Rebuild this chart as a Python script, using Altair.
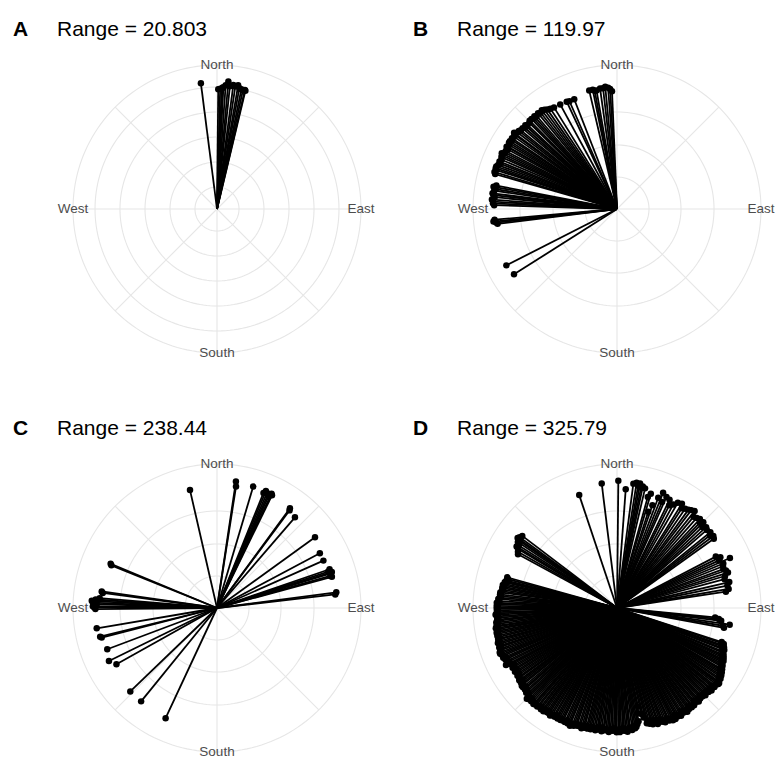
import altair as alt
import pandas as pd

# ---------------- data (compass angle in degrees, relative ray length) ----------------
A_ANGLE = [352.7, 0.6, 1.5, 2.2, 2.7, 3.0, 4.0, 5.1, 6.0, 7.5, 8.5, 9.7, 10.5, 11.5, 12.3, 13.2, 13.5]
A_RADIUS = [0.99, 0.935, 0.94, 0.94, 0.95, 0.95, 0.97, 1.0, 0.965, 0.977, 0.97, 0.98, 0.96, 0.955, 0.95, 0.955, 0.95]

B_ANGLE = [237.6, 243.0,
           262.9, 263.6, 264.2, 265.0,
           271.8, 272.6, 273.4, 274.3, 275.5, 276.4, 277.2, 278.5, 279.3, 280.2, 281.0,
           286.0, 286.8, 287.9, 288.6, 289.4, 290.3, 291.2, 292.0, 293.1, 294.2,
           295.0, 295.8, 296.7, 297.5, 298.6, 299.4, 299.8, 300.7, 301.5, 302.3,
           303.2, 304.0, 305.1, 306.0, 306.5, 307.6, 308.5, 309.3, 310.5, 311.4,
           312.4, 313.2, 314.5, 315.3, 316.5, 317.4, 318.3, 319.2, 320.5, 321.6,
           322.7, 323.8, 325.0, 326.4, 328.2, 331.5, 334.9, 336.2, 338.7,
           346.8, 348.5, 349.3, 350.2, 352.0, 353.4, 354.5, 355.8, 356.7, 357.57]
B_RADIUS = [0.953, 0.97,
            0.94, 0.95, 0.97, 0.96,
            0.96, 0.97, 0.97, 0.98, 0.96, 0.97, 0.98, 0.97, 0.96, 0.98, 0.96,
            0.99, 1.0, 0.99, 1.0, 1.0, 0.99, 0.98, 0.99, 0.98, 0.99,
            0.99, 1.0, 0.98, 0.98, 0.97, 0.99, 0.98, 0.98, 0.99, 0.99,
            0.98, 0.99, 0.98, 0.99, 1.0, 0.98, 0.98, 0.97, 0.97, 0.96,
            0.97, 0.96, 0.96, 0.97, 0.97, 0.96, 0.97, 0.96, 0.97, 0.96,
            0.97, 0.96, 0.95, 0.94, 0.934, 0.93, 0.926, 0.92, 0.92,
            0.95, 0.95, 0.94, 0.94, 0.95, 0.95, 0.96, 0.95, 0.94, 0.92]

C_ANGLE = [205.0, 219.1, 226.1, 240.8, 243.9, 249.4, 255.6, 256.2, 260.4,
           269.5, 270.3, 270.8, 271.8, 272.5, 273.3, 274.0, 274.8, 277.5, 278.2,
           292.0, 292.6, 347.1,
           8.5, 8.9, 16.6, 22.0, 22.7, 23.5, 24.2, 24.8, 25.5, 26.0,
           36.2, 36.6, 40.7, 54.2, 62.0, 66.0, 71.0, 71.9, 72.6, 73.1, 74.2, 74.8,
           82.5, 83.44]
C_RADIUS = [0.95, 0.94, 0.94, 0.90, 0.94, 0.916, 0.93, 0.94, 0.953,
            0.95, 0.96, 0.97, 0.94, 0.97, 0.98, 0.95, 0.92, 0.90, 0.91,
            0.89, 0.90, 0.945,
            1.0, 0.96, 0.99, 0.97, 0.99, 0.98, 0.97, 0.96, 0.99, 0.98,
            0.965, 0.95, 0.934, 0.944, 0.91, 0.91, 0.93, 0.915, 0.94, 0.93, 0.92, 0.93,
            0.94, 0.93]

D_ANGLE = [341.5, 353.0, 0.6, 4.2, 7.5, 8.9, 9.8, 10.5, 11.3, 12.0, 13.2,
           15.5, 16.5, 18.0, 19.0, 20.5, 21.8, 23.0, 24.0, 25.9, 27.0,
           28.5, 30.0, 31.9, 33.0, 34.5, 36.0, 37.2, 38.7, 40.0, 41.5,
           43.0, 44.2, 45.2, 46.5, 47.8, 49.0, 50.9, 52.0, 53.2, 54.4,
           62.5, 63.8, 65.0, 66.1, 67.3, 68.5, 69.9, 71.0, 72.3, 73.5,
           75.0, 77.0, 78.5, 80.3, 81.5, 95.5, 96.2, 97.0, 98.4, 99.5, 100.5,
           108.0, 108.6, 109.5, 110.1, 110.9, 111.4, 112.3, 112.9, 113.8, 114.4,
           115.1, 115.9, 116.5, 117.2, 118.0, 118.7, 119.3, 120.2, 120.8, 121.5,
           122.2, 122.9, 123.6, 124.4, 125.0, 125.8, 126.3, 126.9, 127.6, 128.4,
           129.0, 129.7, 130.5, 131.1, 131.9, 132.5, 133.2, 134.0, 134.6, 135.3,
           136.1, 136.7, 137.4, 138.2, 138.8, 139.5, 140.3, 140.9, 141.6, 142.4,
           143.0, 143.8, 144.5, 145.1, 145.9, 146.6, 147.2, 148.0, 148.7, 149.3,
           150.1, 150.8, 151.4, 152.2, 152.9, 153.5, 154.2, 155.0, 155.6, 156.3,
           157.1, 157.9, 158.5, 159.2, 160.0, 160.6, 161.4, 162.1, 162.8, 163.4,
           164.2, 164.9, 165.5, 166.3, 167.0, 167.9, 168.5, 169.2, 170.0, 170.7,
           171.4, 172.1, 172.9, 173.8, 174.4, 175.1, 175.9, 176.6, 177.2, 178.0,
           178.7, 179.4, 180.2, 180.9, 181.5, 182.3, 183.0, 183.8, 184.4, 185.1,
           185.9, 186.4, 187.2, 188.0, 188.7, 189.3, 190.1, 190.8, 191.6, 192.3,
           193.0, 193.7, 194.3, 195.2, 195.8, 196.5, 197.3, 198.0, 198.9, 199.5,
           200.2, 200.9, 201.8, 202.4, 203.1, 203.9, 204.6, 205.5, 206.1, 206.8,
           207.6, 208.3, 209.0, 209.8, 210.4, 211.2, 211.9, 212.7, 213.3, 214.0,
           214.8, 215.5, 216.1, 216.9, 217.6, 218.4, 219.0, 219.8, 220.5, 221.0,
           221.8, 222.6, 223.3, 224.0, 224.8, 225.5, 226.2, 227.0, 227.7, 228.5,
           229.1, 229.9, 230.8, 231.4, 232.2, 232.9, 233.5, 234.4, 235.0, 235.8,
           236.5, 237.3, 238.0, 238.8, 239.4, 240.2, 240.9, 241.7, 242.3, 242.8,
           243.6, 244.3, 245.1, 245.8, 246.4, 247.2, 247.9, 248.6, 249.2, 250.0,
           250.7, 251.5, 252.1, 252.9, 253.6, 254.3, 255.0, 255.4, 256.2, 256.9,
           257.7, 258.4, 259.1, 259.9, 260.5, 261.2, 261.6, 262.4, 263.1, 263.9,
           264.5, 265.3, 266.0, 266.8, 267.4, 268.0, 268.9, 269.6, 270.3, 271.0,
           271.8, 272.5, 273.3, 274.3, 275.0, 275.8, 276.6, 277.6, 278.3, 279.1,
           279.9, 280.6, 281.4, 282.1, 282.9, 283.5, 284.0, 284.8, 285.6,
           298.5, 299.6, 300.8, 301.5, 302.5, 303.6, 304.5, 305.2, 306.0, 307.29]
D_RADIUS = [0.93, 0.98, 0.995, 0.93, 0.98, 0.99, 0.97, 0.99, 0.96, 0.97, 0.96,
            0.90, 0.93, 0.79, 0.85, 0.92, 0.97, 0.90, 0.95, 0.94, 0.90,
            0.92, 0.95, 0.96, 0.93, 0.94, 0.95, 0.96, 0.97, 0.93, 0.94,
            0.95, 0.93, 0.95, 0.92, 0.94, 0.93, 0.94, 0.92, 0.94, 0.93,
            0.87, 0.90, 0.88, 0.965, 0.90, 0.89, 0.885, 0.90, 0.91, 0.88,
            0.87, 0.90, 0.88, 0.885, 0.86, 0.77, 0.80, 0.82, 0.89, 0.84, 0.85,
            0.86, 0.88, 0.87, 0.89, 0.88, 0.90, 0.89, 0.90, 0.91, 0.90,
            0.92, 0.91, 0.93, 0.92, 0.93, 0.94, 0.93, 0.95, 0.94, 0.96,
            0.95, 0.97, 0.96, 0.98, 0.97, 0.98, 0.99, 0.99, 0.98, 0.97,
            0.98, 0.96, 0.97, 0.98, 0.96, 0.97, 0.96, 0.95, 0.97, 0.96,
            0.96, 0.94, 0.96, 0.95, 0.97, 0.96, 0.94, 0.96, 0.97, 0.96,
            0.97, 0.95, 0.97, 0.96, 0.98, 0.96, 0.97, 0.95, 0.97, 0.98,
            0.96, 0.97, 0.95, 0.98, 0.97, 0.98, 0.96, 0.97, 0.95, 0.96,
            0.97, 0.96, 0.94, 0.95, 0.93, 0.96, 0.94, 0.92, 0.95, 0.93,
            0.94, 0.91, 0.93, 0.88, 0.85, 0.79, 0.84, 0.90, 0.92, 0.94,
            0.95, 0.93, 0.96, 0.94, 0.95, 0.97, 0.95, 0.96, 0.94, 0.96,
            0.97, 0.95, 0.97, 0.96, 0.94, 0.96, 0.95, 0.97, 0.96, 0.95,
            0.96, 0.95, 0.97, 0.94, 0.96, 0.95, 0.97, 0.96, 0.95, 0.97,
            0.96, 0.97, 0.95, 0.97, 0.96, 0.98, 0.96, 0.97, 0.97, 0.96,
            0.98, 0.97, 0.99, 0.97, 0.98, 0.96, 0.98, 0.975, 0.97, 0.98,
            0.97, 0.98, 0.96, 0.98, 0.97, 0.98, 0.99, 0.97, 0.98, 0.98,
            0.97, 0.99, 0.98, 0.99, 0.97, 0.98, 0.99, 0.98, 0.99, 0.995,
            0.98, 0.99, 0.97, 0.99, 1.0, 0.97, 0.96, 0.97, 0.95, 0.96,
            0.94, 0.96, 0.96, 0.94, 0.95, 0.93, 0.95, 0.94, 0.93, 0.94,
            0.92, 0.93, 0.94, 0.92, 0.93, 0.94, 0.92, 0.93, 0.94, 0.975,
            0.94, 0.95, 0.96, 0.95, 0.97, 0.96, 0.97, 0.98, 0.98, 0.97,
            0.96, 0.97, 0.95, 0.96, 0.97, 0.96, 0.95, 0.96, 0.95, 0.96,
            0.95, 0.96, 0.95, 0.94, 0.96, 0.95, 0.95, 0.94, 0.95, 0.93,
            0.94, 0.93, 0.94, 0.95, 0.93, 0.94, 0.93, 0.94, 0.93, 0.94,
            0.93, 0.94, 0.92, 0.93, 0.92, 0.91, 0.92, 0.92, 0.91, 0.90,
            0.91, 0.90, 0.91, 0.89, 0.90, 0.89, 0.89, 0.88, 0.89,
            0.88, 0.89, 0.90, 0.92, 0.91, 0.93, 0.92, 0.95, 0.94, 0.93]

LETTERS = ["A", "B", "C", "D"]
TITLES = ["Range = 20.803", "Range = 119.97", "Range = 238.44", "Range = 325.79"]

A_RINGS = [0.172, 0.367, 0.5625, 0.758, 0.953]
BCD_RINGS = [0.25, 0.50, 0.758]
OUTER = 1.125

DIRECTIONS = ["North", "East", "South", "West"]
DIRECTION_ANGLES = [0, 90, 180, 270]
SPOKE_ANGLES = [0, 45, 90, 135, 180, 225, 270, 315]

# ---------------- styling ----------------
FONT = "Liberation Sans"
GRID = "#E6E6E6"
PX_PER_UNIT = 128.0
CX, CY = 217, 209


def panel(letter, title, angles, radii, rings, width, height):
    xs = alt.Scale(domain=[-CX / PX_PER_UNIT, (width - CX) / PX_PER_UNIT], nice=False, zero=False)
    ys = alt.Scale(domain=[-(height - CY) / PX_PER_UNIT, CY / PX_PER_UNIT], nice=False, zero=False)

    # grid circles
    circ_rows = [(r, t) for r in list(rings) + [OUTER] for t in range(0, 361, 2)]
    circ = pd.DataFrame(circ_rows, columns=["ring", "t"])
    circles = alt.Chart(circ).transform_calculate(
        x="datum.ring*sin(datum.t*PI/180)",
        y="datum.ring*cos(datum.t*PI/180)",
    ).mark_line(color=GRID, strokeWidth=1.1).encode(
        x=alt.X("x:Q", scale=xs, axis=None),
        y=alt.Y("y:Q", scale=ys, axis=None),
        detail="ring:N",
        order="t:Q",
    )

    spokes = alt.Chart(pd.DataFrame({"angle": SPOKE_ANGLES})).transform_calculate(
        x0="0", y0="0",
        x="%f*sin(datum.angle*PI/180)" % OUTER,
        y="%f*cos(datum.angle*PI/180)" % OUTER,
    ).mark_rule(color=GRID, strokeWidth=1.1).encode(
        x=alt.X("x0:Q", scale=xs, axis=None),
        y=alt.Y("y0:Q", scale=ys, axis=None),
        x2="x:Q", y2="y:Q",
    )

    labels = alt.Chart(pd.DataFrame({"dir": DIRECTIONS, "angle": DIRECTION_ANGLES})).transform_calculate(
        x="%f*sin(datum.angle*PI/180)" % OUTER,
        y="%f*cos(datum.angle*PI/180)" % OUTER,
    ).mark_text(font=FONT, fontSize=13.5, color="#4D4D4D", align="center", baseline="middle").encode(
        x=alt.X("x:Q", scale=xs, axis=None),
        y=alt.Y("y:Q", scale=ys, axis=None),
        text="dir:N",
    )

    base = alt.Chart(pd.DataFrame({"angle": angles, "radius": radii})).transform_calculate(
        x0="0", y0="0",
        x="datum.radius*sin(datum.angle*PI/180)",
        y="datum.radius*cos(datum.angle*PI/180)",
    )
    rays = base.mark_rule(color="black", strokeWidth=1.8).encode(
        x=alt.X("x0:Q", scale=xs, axis=None),
        y=alt.Y("y0:Q", scale=ys, axis=None),
        x2="x:Q", y2="y:Q",
    )
    pts = base.mark_circle(color="black", size=42, opacity=1).encode(
        x=alt.X("x:Q", scale=xs, axis=None),
        y=alt.Y("y:Q", scale=ys, axis=None),
    )

    t_letter = alt.Chart(pd.DataFrame({"t": [letter]})).mark_text(
        font=FONT, fontSize=21, fontWeight="bold", color="black", align="left", baseline="alphabetic"
    ).encode(x=alt.value(13), y=alt.value(36), text="t:N")
    t_range = alt.Chart(pd.DataFrame({"t": [title]})).mark_text(
        font=FONT, fontSize=21, color="black", align="left", baseline="alphabetic"
    ).encode(x=alt.value(57), y=alt.value(36), text="t:N")

    return alt.layer(circles, spokes, labels, rays, pts, t_letter, t_range).properties(
        width=width, height=height
    )


pA = panel(LETTERS[0], TITLES[0], A_ANGLE, A_RADIUS, A_RINGS, 400, 399)
pB = panel(LETTERS[1], TITLES[1], B_ANGLE, B_RADIUS, BCD_RINGS, 376, 399)
pC = panel(LETTERS[2], TITLES[2], C_ANGLE, C_RADIUS, BCD_RINGS, 400, 359)
pD = panel(LETTERS[3], TITLES[3], D_ANGLE, D_RADIUS, BCD_RINGS, 376, 359)

chart = alt.concat(
    pA, pB, pC, pD, columns=2, spacing=0, bounds="flush", align="each"
).resolve_scale(
    x="independent", y="independent"
).properties(padding=0, background="white").configure_view(stroke=None)

chart.save("out.html", embed_options={"renderer": "svg", "actions": False})
